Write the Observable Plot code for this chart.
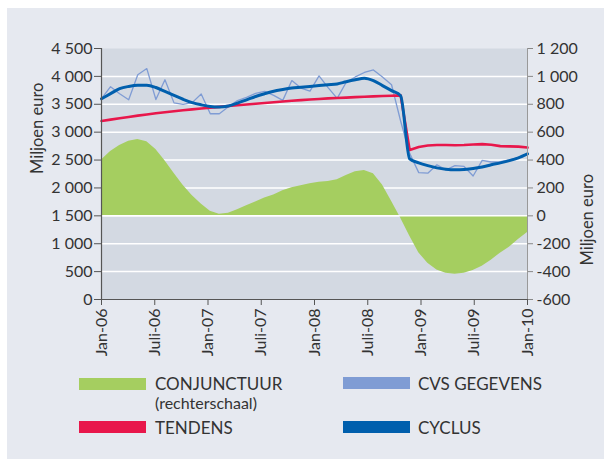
<!DOCTYPE html>
<html>
<head>
<meta charset="utf-8">
<script src="https://cdn.jsdelivr.net/npm/d3@7"></script>
<script src="https://cdn.jsdelivr.net/npm/@observablehq/plot@0.6"></script>
<style>
  html, body { margin: 0; padding: 0; background: #ffffff; }
  #page { position: relative; width: 604px; height: 459px; overflow: hidden; font-family: Lato, "Open Sans", sans-serif; color: #333; }
  #bg { position: absolute; left: 7px; top: 8px; width: 597px; height: 451px; background: #e6e9f0; }
  #chart { position: absolute; left: 0; top: 0; }
  .lg { position: absolute; font-size: 17px; line-height: 17px; height: 17px; color: #333; white-space: nowrap; }
  .lg.sub { font-size: 16px; line-height: 16px; height: 16px; }
  .sw { position: absolute; width: 67px; height: 12px; }
</style>
</head>
<body>
<div id="page">
  <div id="bg"></div>
  <div id="chart"></div>
  <div id="legend"></div>
</div>
<script>
// Monthly data, Jan-06 .. Dec-09 (48 points)
const cvs = [3600,3815,3690,3580,4030,4140,3585,3940,3525,3500,3530,3685,
             3330,3330,3455,3565,3625,3695,3730,3660,3570,3925,3790,3735,
             4010,3800,3605,3895,3990,4070,4115,3990,3850,3200,2620,2275,
             2265,2415,2325,2400,2385,2215,2495,2465,2470,2505,2550,2605];
const tendens = [3200,3225,3250,3273,3296,3318,3340,3358,3375,3392,3408,3424,
                 3440,3454,3468,3482,3496,3510,3523,3537,3550,3563,3575,3586,
                 3596,3605,3613,3620,3628,3635,3642,3648,3654,3660,2680,2735,
                 2760,2770,2770,2765,2770,2780,2785,2775,2750,2745,2740,2725];
const cyclus = [3600,3690,3780,3820,3840,3840,3800,3730,3660,3590,3530,3490,
                3460,3450,3470,3520,3580,3640,3690,3735,3765,3790,3805,3820,
                3835,3850,3865,3905,3940,3968,3925,3835,3745,3655,2520,2450,
                2400,2360,2335,2325,2330,2350,2375,2415,2450,2490,2540,2610];
// right-hand scale (rechterschaal)
const conjunctuur = [400,462,505,535,548,532,475,395,305,220,145,85,
                     32,12,18,43,72,100,128,150,180,202,216,230,
                     240,247,258,290,316,325,302,222,105,-15,-145,-265,
                     -340,-388,-412,-419,-412,-392,-362,-318,-268,-225,-170,-120];
const xTickLabels = ["Jan-06","Juli-06","Jan-07","Juli-07","Jan-08","Juli-08","Jan-09","Juli-09","Jan-10"];
const leftTicks = [0,500,1000,1500,2000,2500,3000,3500,4000,4500];
const legendItems = [
  {label: "CONJUNCTUUR", sub: "(rechterschaal)", color: "#a5ce60"},
  {label: "CVS GEGEVENS", color: "#7f9cd4"},
  {label: "TENDENS", color: "#e8174b"},
  {label: "CYCLUS", color: "#005fad"}
];

const n = cvs.length;
const data = d3.range(n).map(i => ({i, cvs: cvs[i], tendens: tendens[i], cyclus: cyclus[i], conj: conjunctuur[i]}));
const xTicks = xTickLabels.map((_, k) => (n - 1) * k / (xTickLabels.length - 1));
const loc = d3.formatLocale({decimal: ",", thousands: " ", grouping: [3], currency: ["€", ""], minus: "-"});
const fmt = loc.format(",d");
const toLeft = r => r / 0.4 + 1500;   // right scale -> left scale
const toRight = l => (l - 1500) * 0.4;

const chart = Plot.plot({
  width: 604,
  height: 370,
  marginLeft: 101,
  marginRight: 77,
  marginTop: 48,
  marginBottom: 71,
  style: {background: "transparent", fontFamily: "Lato, 'Open Sans', sans-serif", fontSize: "16px", color: "#333"},
  x: {domain: [0, n - 1]},
  y: {domain: [0, 4500]},
  marks: [
    Plot.frame({fill: "#d3d9e2", stroke: null}),
    Plot.ruleY(leftTicks.filter(d => d > 0 && d < 4500), {stroke: "#ffffff", strokeWidth: 1.5}),
    Plot.areaY(data, {x: "i", y1: 1500, y2: d => toLeft(d.conj), fill: "#a5ce60"}),
    Plot.ruleY([1500], {stroke: "#ffffff", strokeWidth: 1.5}),
    Plot.lineY(data, {x: "i", y: "cvs", stroke: "#7f9cd4", strokeWidth: 1.3}),
    Plot.lineY(data, {x: "i", y: "tendens", stroke: "#e8174b", strokeWidth: 2.6}),
    Plot.lineY(data, {x: "i", y: "cyclus", stroke: "#005fad", strokeWidth: 3, curve: "monotone-x"}),
    Plot.ruleX([0], {stroke: "#555", strokeWidth: 1.2}),
    Plot.ruleX([n - 1], {stroke: "#999", strokeWidth: 1}),
    Plot.ruleY([0], {stroke: "#555", strokeWidth: 1.2}),
    Plot.axisY(leftTicks, {anchor: "left", tickSize: 7, tickPadding: 2, tickFormat: fmt, label: null, stroke: "#555"}),
    Plot.axisY(leftTicks, {anchor: "right", tickSize: 5, tickPadding: 4, tickFormat: d => fmt(toRight(d)), label: null, stroke: "#888"}),
    Plot.axisX(xTicks, {anchor: "bottom", tickSize: 6, tickPadding: 3, tickRotate: -90, tickFormat: d => xTickLabels[xTicks.indexOf(d)], label: null, stroke: "#555"}),
    Plot.text(["Miljoen euro"], {frameAnchor: "left", dx: -64, rotate: -90, fontSize: 16.5, fill: "#333"}),
    Plot.text(["Miljoen euro"], {frameAnchor: "right", dx: 60, rotate: -90, fontSize: 16.5, fill: "#333"})
  ]
});
document.getElementById("chart").appendChild(chart);

// Legend (HTML, below the SVG area)
const pos = [
  {sx: 79, sy: 378, tx: 155, ty: 375},
  {sx: 343, sy: 377, tx: 418, ty: 375},
  {sx: 79, sy: 421, tx: 155, ty: 419},
  {sx: 343, sy: 421, tx: 418, ty: 419}
];
const lg = document.getElementById("legend");
function addText(txt, x, y, cls) {
  const t = document.createElement("div");
  t.className = "lg" + (cls ? " " + cls : "");
  t.style.left = x + "px"; t.style.top = y + "px";
  t.textContent = txt;
  lg.appendChild(t);
}
legendItems.forEach((it, k) => {
  const p = pos[k];
  const sw = document.createElement("div");
  sw.className = "sw";
  sw.style.left = p.sx + "px"; sw.style.top = p.sy + "px"; sw.style.background = it.color;
  lg.appendChild(sw);
  addText(it.label, p.tx, p.ty);
  if (it.sub) addText(it.sub, p.tx, p.ty + 20, "sub");
});
</script>
</body>
</html>
